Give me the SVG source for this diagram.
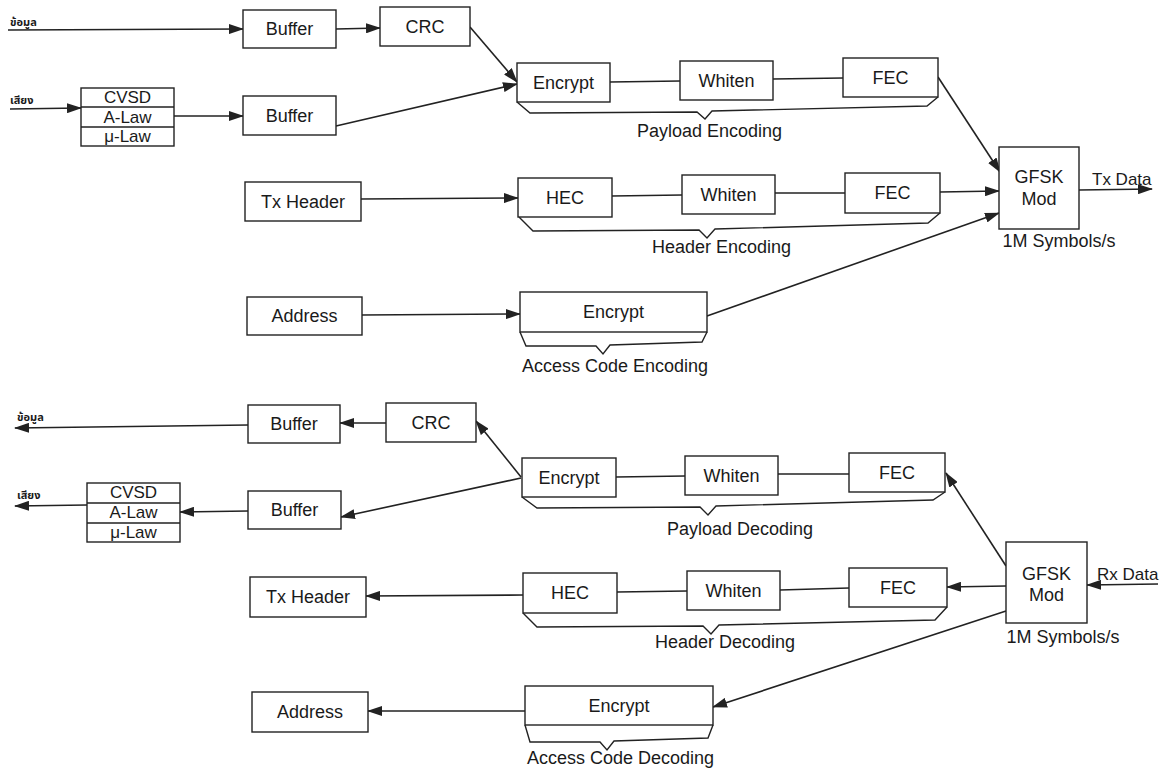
<svg xmlns="http://www.w3.org/2000/svg" width="1172" height="772" viewBox="0 0 1172 772">
  <defs>
    <marker id="arrow" markerUnits="userSpaceOnUse" markerWidth="15" markerHeight="10" refX="14" refY="5" orient="auto">
      <path d="M0,0 L15,5 L0,10 z" fill="#222"/>
    </marker>
    <style>
      .box { fill: #fff; stroke: #222; stroke-width: 1.4; }
      .ln { fill: none; stroke: #222; stroke-width: 1.6; }
      .arr { fill: none; stroke: #222; stroke-width: 1.6; marker-end: url(#arrow); }
      .brace { fill: none; stroke: #222; stroke-width: 1.4; }
      .t { font-family: "Liberation Sans", Arial, sans-serif; font-size: 18px; fill: #1a1a1a; text-anchor: middle; }
      .tl { font-family: "Liberation Sans", Arial, sans-serif; font-size: 18px; fill: #1a1a1a; }
      .th { font-family: "Noto Sans Thai", "Noto Sans", "DejaVu Sans", sans-serif; font-size: 11px; font-weight: bold; fill: #1a1a1a; }
    </style>
  </defs>
  <rect width="1172" height="772" fill="#fff"/>

  <!-- transmit path connectors -->
  <g id="connectors-tx">
    <path class="arr" d="M8,30 L243,29"/>
    <path class="arr" d="M336,29 L380,28"/>
    <path class="arr" d="M470,27 L517,82"/>
    <path class="arr" d="M10,109 L81,108"/>
    <path class="arr" d="M174,116 L243,116"/>
    <path class="arr" d="M336,126 L517,84"/>
    <path class="ln" d="M610,82 L680,81"/>
    <path class="ln" d="M773,79 L843,78"/>
    <path class="arr" d="M938,77 L1000,172"/>
    <path class="arr" d="M361,199 L518,198"/>
    <path class="ln" d="M612,196 L682,195"/>
    <path class="ln" d="M775,193 L845,193"/>
    <path class="arr" d="M940,192 L999,191"/>
    <path class="arr" d="M1079,190 L1152,189"/>
    <path class="arr" d="M362,315 L520,314"/>
    <path class="arr" d="M707,316 L999,213"/>
  </g>

  <!-- receive path connectors -->
  <g id="connectors-rx">
    <path class="arr" d="M248,425 L15,428"/>
    <path class="arr" d="M386,423 L340,423"/>
    <path class="arr" d="M521,477 L476,421"/>
    <path class="arr" d="M521,478 L341,517"/>
    <path class="ln" d="M616,477 L685,476"/>
    <path class="ln" d="M778,474 L849,474"/>
    <path class="arr" d="M1006,566 L946,473"/>
    <path class="arr" d="M1158,584 L1087,585"/>
    <path class="arr" d="M1006,586 L947,587"/>
    <path class="ln" d="M849,588 L780,590"/>
    <path class="ln" d="M687,591 L617,592"/>
    <path class="arr" d="M523,595 L366,596"/>
    <path class="arr" d="M1006,611 L713,707"/>
    <path class="arr" d="M525,711 L368,711"/>
    <path class="arr" d="M248,511 L180,512"/>
    <path class="arr" d="M87,505 L15,506"/>
  </g>

  <!-- group braces -->
  <g id="braces">
    <path class="brace" d="M517,102 L530,113 L697,112 L705,119 L712,111 L927,106 L938,97"/>
    <path class="brace" d="M519,217 L533,231 L699,230 L707,238 L715,229 L928,223 L940,213"/>
    <path class="brace" d="M520,332 L526,346 L596,346 L603,354 L610,345 L702,342 L707,332"/>
    <path class="brace" d="M522,497 L537,508 L700,507 L708,515 L716,506 L933,500 L945,492"/>
    <path class="brace" d="M523,613 L537,627 L703,626 L711,634 L719,625 L935,620 L947,607"/>
    <path class="brace" d="M525,725 L530,742 L600,742 L607,750 L614,741 L708,738 L713,725"/>
  </g>

  <!-- transmit side -->
  <text class="th" x="10" y="26">ข้อมูล</text>
  <text class="th" x="10" y="104">เสียง</text>

  <g id="tx-buffer-data"><rect class="box" x="243" y="10" width="93" height="38"/><text class="t" x="289.5" y="35">Buffer</text></g>
  <g id="tx-crc"><rect class="box" x="380" y="7" width="90" height="39"/><text class="t" x="425" y="33">CRC</text></g>
  <g id="tx-codec">
    <rect class="box" x="81" y="88" width="93" height="58"/>
    <path class="ln" d="M81,107 H174 M81,127 H174" style="stroke-width:1.3"/>
    <text class="t" x="127.5" y="103" style="font-size:17px">CVSD</text>
    <text class="t" x="127.5" y="123" style="font-size:17px">A-Law</text>
    <text class="t" x="127.5" y="142" style="font-size:17px">μ-Law</text>
  </g>
  <g id="tx-buffer-voice"><rect class="box" x="243" y="96" width="93" height="39"/><text class="t" x="289.5" y="122">Buffer</text></g>
  <g id="tx-payload-encrypt"><rect class="box" x="517" y="63" width="93" height="39"/><text class="t" x="563.5" y="89">Encrypt</text></g>
  <g id="tx-payload-whiten"><rect class="box" x="680" y="61" width="93" height="39"/><text class="t" x="726.5" y="87">Whiten</text></g>
  <g id="tx-payload-fec"><rect class="box" x="843" y="58" width="95" height="39"/><text class="t" x="890.5" y="84">FEC</text></g>
  <text class="tl" x="637" y="137">Payload Encoding</text>

  <g id="tx-header"><rect class="box" x="245" y="182" width="116" height="39"/><text class="t" x="303" y="208">Tx Header</text></g>
  <g id="tx-hec"><rect class="box" x="518" y="178" width="94" height="39"/><text class="t" x="565" y="204">HEC</text></g>
  <g id="tx-header-whiten"><rect class="box" x="682" y="175" width="93" height="39"/><text class="t" x="728.5" y="201">Whiten</text></g>
  <g id="tx-header-fec"><rect class="box" x="845" y="173" width="95" height="40"/><text class="t" x="892.5" y="199">FEC</text></g>
  <text class="tl" x="652" y="253">Header Encoding</text>

  <g id="tx-gfsk">
    <rect class="box" x="999" y="147" width="80" height="82"/>
    <text class="t" x="1039" y="183">GFSK</text>
    <text class="t" x="1039" y="205">Mod</text>
  </g>
  <text class="t" x="1059" y="247">1M Symbols/s</text>
  <text class="tl" x="1092" y="185" style="font-size:17px">Tx Data</text>

  <g id="tx-address"><rect class="box" x="247" y="297" width="115" height="38"/><text class="t" x="304.5" y="322">Address</text></g>
  <g id="tx-access-encrypt"><rect class="box" x="520" y="292" width="187" height="40"/><text class="t" x="613.5" y="318">Encrypt</text></g>
  <text class="tl" x="522" y="372">Access Code Encoding</text>

  <!-- receive side -->
  <text class="th" x="17" y="421">ข้อมูล</text>
  <text class="th" x="17" y="499">เสียง</text>

  <g id="rx-buffer-data"><rect class="box" x="248" y="405" width="92" height="38"/><text class="t" x="294" y="430">Buffer</text></g>
  <g id="rx-crc"><rect class="box" x="386" y="403" width="90" height="39"/><text class="t" x="431" y="429">CRC</text></g>
  <g id="rx-codec">
    <rect class="box" x="87" y="483" width="93" height="59"/>
    <path class="ln" d="M87,503 H180 M87,523 H180" style="stroke-width:1.3"/>
    <text class="t" x="133.5" y="498" style="font-size:17px">CVSD</text>
    <text class="t" x="133.5" y="518" style="font-size:17px">A-Law</text>
    <text class="t" x="133.5" y="538" style="font-size:17px">μ-Law</text>
  </g>
  <g id="rx-buffer-voice"><rect class="box" x="248" y="491" width="93" height="38"/><text class="t" x="294.5" y="516">Buffer</text></g>
  <g id="rx-payload-encrypt"><rect class="box" x="522" y="458" width="94" height="39"/><text class="t" x="569" y="484">Encrypt</text></g>
  <g id="rx-payload-whiten"><rect class="box" x="685" y="456" width="93" height="39"/><text class="t" x="731.5" y="482">Whiten</text></g>
  <g id="rx-payload-fec"><rect class="box" x="849" y="453" width="96" height="39"/><text class="t" x="897" y="479">FEC</text></g>
  <text class="tl" x="667" y="535">Payload Decoding</text>

  <g id="rx-header"><rect class="box" x="250" y="577" width="116" height="40"/><text class="t" x="308" y="603">Tx Header</text></g>
  <g id="rx-hec"><rect class="box" x="523" y="573" width="94" height="40"/><text class="t" x="570" y="599">HEC</text></g>
  <g id="rx-header-whiten"><rect class="box" x="687" y="571" width="93" height="39"/><text class="t" x="733.5" y="597">Whiten</text></g>
  <g id="rx-header-fec"><rect class="box" x="849" y="568" width="98" height="39"/><text class="t" x="898" y="594">FEC</text></g>
  <text class="tl" x="655" y="648">Header Decoding</text>

  <g id="rx-gfsk">
    <rect class="box" x="1006" y="542" width="81" height="81"/>
    <text class="t" x="1046.5" y="580">GFSK</text>
    <text class="t" x="1046.5" y="601">Mod</text>
  </g>
  <text class="t" x="1063" y="643">1M Symbols/s</text>
  <text class="tl" x="1097" y="580" style="font-size:17px">Rx Data</text>

  <g id="rx-address"><rect class="box" x="252" y="692" width="116" height="40"/><text class="t" x="310" y="718">Address</text></g>
  <g id="rx-access-encrypt"><rect class="box" x="525" y="686" width="188" height="39"/><text class="t" x="619" y="712">Encrypt</text></g>
  <text class="tl" x="527" y="764">Access Code Decoding</text>
</svg>
